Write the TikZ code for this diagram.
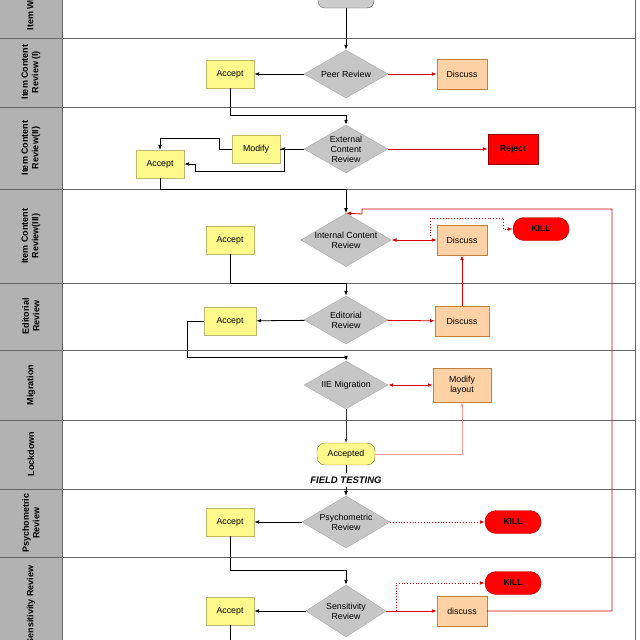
\documentclass[tikz,border=0pt]{standalone}
\usepackage{fontspec}
\setmainfont{Liberation Sans}
\usetikzlibrary{shapes.geometric,arrows.meta}
\begin{document}
\begin{tikzpicture}[x=1pt,y=-1pt,font=\fontsize{8.8}{10}\selectfont,
 dia/.style={diamond,aspect=1.7,draw=gray!70,fill=gray!45,inner sep=0pt,minimum width=84,minimum height=48,align=center},
 yel/.style={draw=yellow!40!gray,fill=yellow!45,minimum width=48,minimum height=28,align=center},
 ora/.style={draw=orange!50!gray,fill=orange!35,minimum width=50,minimum height=30,align=center},
 killb/.style={rounded corners=11,draw=red!70!black,fill=red,minimum width=56,minimum height=23,font=\fontsize{8.5}{10}\selectfont\bfseries},
 lane/.style={rotate=90,font=\fontsize{9}{10.5}\selectfont\bfseries,align=center},
 blk/.style={draw=black,thick,-{Latex[length=5pt]}},
 rd/.style={draw=red!85!black,thick,-{Latex[length=5pt]}},
 rdd/.style={draw=red!85!black,thick,{Latex[length=5pt]}-{Latex[length=5pt]}},
 rdot/.style={draw=red!85!black,thick,dotted,-{Latex[length=5pt]}}]
\useasboundingbox (0,0) rectangle (640,640);
\clip (0,0) rectangle (640,640);
\fill[gray!60] (0,-2) rectangle (62,642);
\draw[gray!80!black] (62,-2) -- (62,642) (635,-2) -- (635,642);
\foreach \y in {38,107,189,283,350,420,489,557} \draw[gray!80!black] (0,\y) -- (635,\y);
% lane labels
\node[lane,anchor=west] at (31,34) {Item Writing};
\node[lane] at (31,72) {Item Content\\Review (I)};
\node[lane] at (31,148) {Item Content\\Review(II)};
\node[lane] at (31,236) {Item Content\\Review(III)};
\node[lane] at (31,316) {Editorial\\Review};
\node[lane] at (31,385) {Migration};
\node[lane] at (31,454) {Lockdown};
\node[lane] at (31,523) {Psychometric\\Review};
\node[lane,anchor=east] at (31,562) {Sensitivity Review};
% nodes
\node[draw=gray!70!black,fill=gray!40,rounded corners=7,minimum width=56,minimum height=16] (top) at (346,0) {};
\node[dia] (peer) at (346,74) {Peer Review};
\node[yel] (a1) at (230,74) {Accept};
\node[ora] (d1) at (462,74) {Discuss};
\node[dia] (ext) at (346,149) {External\\Content\\Review};
\node[yel] (mod) at (256,149) {Modify};
\node[yel] (a2) at (160,164) {Accept};
\node[draw=red!60!black,fill=red,minimum width=50,minimum height=30,font=\fontsize{8.5}{10}\selectfont\bfseries] (rej) at (513,149) {Reject};
\node[dia,minimum width=90,minimum height=52] (int) at (346,240) {Internal Content\\Review};
\node[yel] (a3) at (230,240) {Accept};
\node[ora] (d3) at (462,240) {Discuss};
\node[killb] (k1) at (541,229) {KILL};
\node[dia] (edi) at (346,320) {Editorial\\Review};
\node[yel,minimum width=52] (a4) at (230,321) {Accept};
\node[ora,minimum width=54] (d4) at (462,321) {Discuss};
\node[dia] (iie) at (346,385) {IIE Migration};
\node[ora,minimum width=58,minimum height=34] (ml) at (462,385) {Modify\\layout};
\node[rounded corners=8,draw=yellow!40!black,fill=yellow!45,minimum width=58,minimum height=22] (acc) at (346,454) {Accepted};
\node[font=\fontsize{9.5}{11}\selectfont\bfseries\itshape] (ft) at (346,480) {FIELD TESTING};
\node[dia,minimum width=88,minimum height=52] (psy) at (346,522) {Psychometric\\Review};
\node[yel] (a5) at (230,522) {Accept};
\node[killb] (k2) at (513,522) {KILL};
\node[dia,minimum width=80,minimum height=52] (sen) at (346,611) {Sensitivity\\Review};
\node[yel] (a6) at (230,611) {Accept};
\node[ora] (d6) at (462,611) {discuss};
\node[killb] (k3) at (513,583) {KILL};
% connectors
\draw[blk] (top) -- (peer);
\draw[blk] (peer) -- (a1);
\draw[rd] (peer) -- (d1);
\draw[blk] (a1.south) |- (346,115) -- (ext.north);
\draw[blk] (ext) -- (mod);
\draw[blk] (mod.east) -- ++(4,0) |- (195,171) |- (a2.east);
\draw[draw=black,-{Latex[length=5pt]}] (mod.west) -| (219,138) -| (a2.north);
\draw[rd] (ext) -- (rej);
\draw[blk] (a2.south) |- (346,189) -- (int.north);
\draw[rdd] (int) -- (d3);
\draw[rdot] (430,236) |- (503,218) |- (k1.west);
\draw[blk] (a3.south) |- (346,283) -- (edi.north);
\draw[blk] (edi) -- (a4);
\draw[rd] (edi) -- (d4);
\draw[rd] (d4) -- (d3);
\draw[blk] (a4.west) -| (187,357) -| (iie.north);
\draw[rdd] (iie) -- (ml);
\draw[draw=black!80,-{Latex[length=4pt]}] (iie) -- (acc);
\draw[draw=red!40,-{Latex[length=4pt]}] (acc.east) -| (ml.south);
\draw[black] (acc.south) -- (ft.north);
\draw[blk,thin] (ft.south) -- (psy.north);
\draw[blk] (psy) -- (a5);
\draw[rdot] (psy) -- (k2);
\draw[blk] (a5.south) |- (346,570) -- (sen.north);
\draw[blk] (sen) -- (a6);
\draw[rd] (sen) -- (d6);
\draw[rdot] (396,611) |- (k3.west);
\draw[rd] (d6.east) -| (612,209) -| (362,214) -- (int.north);
\draw[thick] (a6.south) -- (230,645);
\end{tikzpicture}
\end{document}
